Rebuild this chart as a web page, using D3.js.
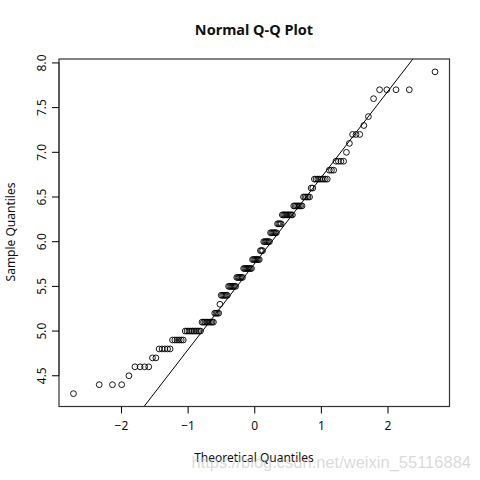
<!DOCTYPE html>
<html><head><meta charset="utf-8">
<script src="https://cdn.jsdelivr.net/npm/d3@7"></script>
<style>body{margin:0;background:#fff}svg{display:block}</style>
</head><body>
<svg id="c" width="480" height="480"></svg>
<script>
// Sample values (sorted) and their counts
const sampleValues = [4.3,4.4,4.5,4.6,4.7,4.8,4.9,5.0,5.1,5.2,5.3,5.4,5.5,5.6,5.7,5.8,5.9,6.0,6.1,6.2,6.3,6.4,6.5,6.6,6.7,6.8,6.9,7.0,7.1,7.2,7.3,7.4,7.6,7.7,7.9];
const sampleCounts = [1,3,1,4,2,5,6,10,9,4,1,6,7,6,8,7,3,6,6,4,9,7,5,2,8,3,4,1,1,3,1,1,1,4,1];
const xTicks = [-2,-1,0,1,2];
const yTicks = [4.5,5.0,5.5,6.0,6.5,7.0,7.5,8.0];
const title = "Normal Q-Q Plot";
const xLabel = "Theoretical Quantiles";
const yLabel = "Sample Quantiles";

// inverse normal CDF (Acklam)
function qnorm(p){
  const a=[-3.969683028665376e+01,2.209460984245205e+02,-2.759285104469687e+02,1.383577518672690e+02,-3.066479806614716e+01,2.506628277459239e+00];
  const b=[-5.447609879822406e+01,1.615858368580409e+02,-1.556989798598866e+02,6.680131188771972e+01,-1.328068155288572e+01];
  const c=[-7.784894002430293e-03,-3.223964580411365e-01,-2.400758277161838e+00,-2.549732539343734e+00,4.374664141464968e+00,2.938163982698783e+00];
  const d=[7.784695709041462e-03,3.224671290700398e-01,2.445134137142996e+00,3.754408661907416e+00];
  const pl=0.02425, ph=1-pl; let q,r;
  if(p<pl){q=Math.sqrt(-2*Math.log(p));return (((((c[0]*q+c[1])*q+c[2])*q+c[3])*q+c[4])*q+c[5])/((((d[0]*q+d[1])*q+d[2])*q+d[3])*q+1);}
  if(p<=ph){q=p-0.5;r=q*q;return (((((a[0]*r+a[1])*r+a[2])*r+a[3])*r+a[4])*r+a[5])*q/(((((b[0]*r+b[1])*r+b[2])*r+b[3])*r+b[4])*r+1);}
  q=Math.sqrt(-2*Math.log(1-p));return -(((((c[0]*q+c[1])*q+c[2])*q+c[3])*q+c[4])*q+c[5])/((((d[0]*q+d[1])*q+d[2])*q+d[3])*q+1);
}

const ys=[]; sampleValues.forEach((v,i)=>{for(let k=0;k<sampleCounts[i];k++)ys.push(v);});
const n=ys.length;
const pts=ys.map((y,i)=>({x:qnorm((i+1-0.5)/n),y}));

const L=59,R=449.5,T=59,B=406.5;
const xe=d3.extent(pts,d=>d.x), ye=d3.extent(pts,d=>d.y);
const xp=(xe[1]-xe[0])*0.04, yp=(ye[1]-ye[0])*0.04;
const x=d3.scaleLinear().domain([xe[0]-xp,xe[1]+xp]).range([L,R]);
const y=d3.scaleLinear().domain([ye[0]-yp,ye[1]+yp]).range([B,T]);

const svg=d3.select("#c");
const font="'Source Sans Pro','Noto Sans','Open Sans',sans-serif";

svg.append("defs").append("clipPath").attr("id","clip").append("rect")
  .attr("x",L).attr("y",T).attr("width",R-L).attr("height",B-T);

// qqline through quartiles
const q1=d3.quantile(ys,0.25), q3=d3.quantile(ys,0.75);
const z1=qnorm(0.25), z3=qnorm(0.75);
const slope=(q3-q1)/(z3-z1), icpt=q1-slope*z1;
const xd=x.domain();
svg.append("line").attr("clip-path","url(#clip)")
  .attr("x1",x(xd[0])).attr("y1",y(icpt+slope*xd[0]))
  .attr("x2",x(xd[1])).attr("y2",y(icpt+slope*xd[1]))
  .attr("stroke","#000").attr("stroke-width",1);

svg.append("g").selectAll("circle").data(pts).join("circle")
  .attr("cx",d=>x(d.x)).attr("cy",d=>y(d.y)).attr("r",2.9)
  .attr("fill","none").attr("stroke","#000").attr("stroke-width",0.9);

svg.append("rect").attr("x",L).attr("y",T).attr("width",R-L).attr("height",B-T)
  .attr("fill","none").attr("stroke","#333").attr("stroke-width",1.2);

// x axis
const xa=svg.append("g").attr("transform",`translate(0,${B})`)
  .call(d3.axisBottom(x).tickValues(xTicks).tickSize(7).tickPadding(8).tickFormat(d3.format("d")));
xa.select(".domain").attr("d",`M${x(xTicks[0])},0H${x(xTicks[xTicks.length-1])}`).attr("stroke","#333");
xa.selectAll("text").attr("font-family",font).attr("font-size",12).attr("fill","#111");

// y axis
const ya=svg.append("g").attr("transform",`translate(${L},0)`)
  .call(d3.axisLeft(y).tickValues(yTicks).tickSize(7).tickFormat(d3.format(".1f")));
ya.select(".domain").attr("d",`M0,${y(yTicks[0])}V${y(yTicks[yTicks.length-1])}`).attr("stroke","#333");
ya.selectAll("text").attr("font-family",font).attr("font-size",12).attr("fill","#111")
  .attr("text-anchor","middle").attr("x",0).attr("dy",0)
  .attr("transform",d=>`translate(-17,${y(d)}) rotate(-90)`).attr("y",0)
  .each(function(){d3.select(this).attr("dy","0.35em");});
ya.selectAll(".tick").attr("transform",null);
ya.selectAll(".tick line").attr("transform",d=>`translate(0,${y(d)})`);

svg.append("text").attr("x",254).attr("y",35).attr("text-anchor","middle")
  .attr("font-family",font).attr("font-weight","bold").attr("font-size",14.5).attr("fill","#111").text(title);
svg.append("text").attr("x",254).attr("y",462).attr("text-anchor","middle")
  .attr("font-family",font).attr("font-size",12).attr("fill","#111").text(xLabel);
svg.append("text").attr("transform","translate(15,232) rotate(-90)").attr("text-anchor","middle")
  .attr("font-family",font).attr("font-size",12).attr("fill","#111").text(yLabel);

// watermark
svg.append("text").attr("x",471).attr("y",468).attr("text-anchor","end")
  .attr("font-family","'Liberation Sans',Arial,sans-serif").attr("font-size",16.5)
  .attr("fill","#bbb").attr("fill-opacity",0.55).text("https://blog.csdn.net/weixin_55116884");
</script>
</body></html>
